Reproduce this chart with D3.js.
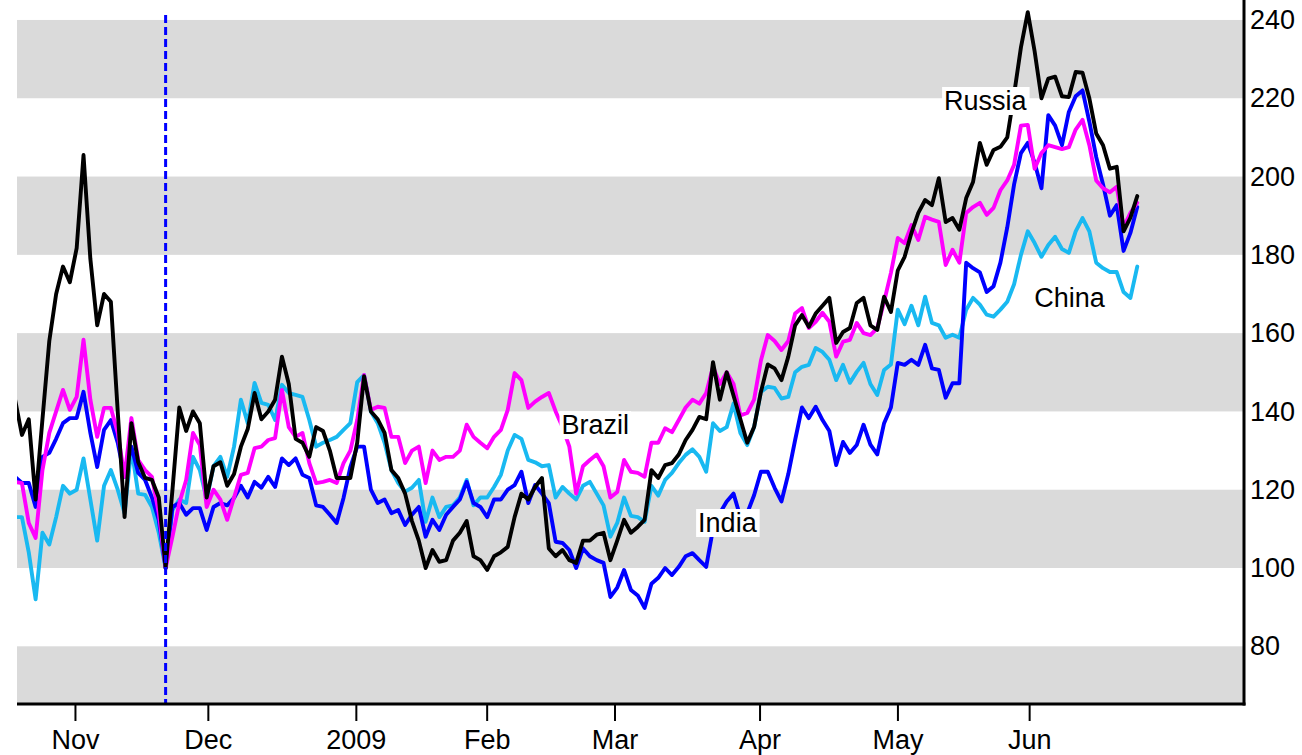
<!DOCTYPE html>
<html><head><meta charset="utf-8">
<script src="https://cdn.jsdelivr.net/npm/d3@7"></script>
<style>
html,body{margin:0;padding:0;background:#fff;}
svg{display:block;}
text{font-family:"Liberation Sans",Arial,Helvetica,sans-serif;}
</style>
</head><body>
<svg id="chart" width="1302" height="755"></svg>
<script>
// ---- data (trading-day index 0..164, index 22 = rebasing day = 100) ----
const russia = [143,134,138,117.5,138,158,170,177,173,181.7,
205.5,179,162,170,168,140,113,137,127,123,
122.5,118,100,120,141,135,140,137,118,126,
127,121,124,131,135.5,144.7,138,140,143,154,
147,133,132,128.4,136,135,130,123,123,123,
132,149,140,138,134.5,125,123,119,112,107,
100,104.6,101.6,102,107,109,112,103,102,99.5,
103,104,105.4,113,119,117.5,120.7,123,105,103,
104.6,102,101.3,107,107,108.5,109,102,107,112.3,
109,110.5,112.3,125,123,126.3,126.8,129,132.7,135.3,
138.6,138,152.6,143,150,144,138,132,136,145,
152,151,148,154,162,164.6,161.6,165,167,169,
157.5,160.3,161.3,167.7,169,162,160.8,169.3,165.4,176,
179.5,185.6,190.7,194,192.7,199.6,188.4,189.4,186.4,194.5,
198.6,208.6,203,206.8,207.6,210,221,233,242,232,
220,225,225.5,220.5,220.3,226.7,226.5,220,211,208,
202,202.5,186,189.5,195];

const brazil = [122,121.7,111.5,107.7,125,134.5,140,145.5,140.4,143.7,
158.3,143,133.5,140.9,140.9,134.5,123.3,138.3,127.6,125,
123.3,114,100,108,116.6,122.5,134.5,131.4,115.6,120,
117.5,112.3,118,123.8,124.3,130.6,131,132.7,133.2,145.5,
136,133.5,134.5,126.8,121.7,122,122.5,121.7,126.8,130,
137.8,149.3,140.4,141.2,140.9,133.5,133.5,126.8,130,131,
121.7,130,127.6,128.4,128.4,130,136.6,133.5,132,130.6,
133.5,135.3,140.4,149.8,148,140.9,142.5,143.7,144.7,140,
136,131,119,126,127.6,129,126,118,119.4,127.6,
124.6,124.3,123.3,132,132,135.7,134.7,137.8,141,143,
142,144.7,151.4,147,150,147,139,139.6,143,153,
159.5,158,155.7,158,165,166.4,161.3,162.9,165.2,162.9,
154,157.8,158.3,162.6,160,159.5,161.3,168,175.4,184.3,
183,187.6,183.8,189.7,189,188.4,177.4,181.3,178,190.7,
192.2,193.3,190.2,192,196.5,199,203,213,213.2,202,
206,208,207.5,207,207.5,212,214.5,208,199,197,
196,197.4,187,190.7,193.3];

const india = [123.3,121.7,121.7,115.6,128.4,129.4,133,137,138.3,138.3,
145,134.5,125.8,135.3,137.8,132,123.3,131,124.3,122.5,
118,112.3,100,115.6,116.6,113.6,115.3,115.3,109.7,115.6,
116.6,116,117.9,121,118,122,120.5,123.3,120.7,128,
126.3,128,123.8,123,116,115.6,113.6,111.5,117.9,125.8,
131,131,120,116.6,117.5,114,114.8,111,113.6,115.6,
108,112.3,109.7,113.6,115.6,117.5,122,116.6,115.6,113,
117.5,117.5,120,121.2,124.6,116.6,121.2,119,116.6,106.7,
106.4,104.6,100,105,103,102,101.3,92.6,95,99.5,
94.4,93,89.8,96,97.5,100,98.2,100.3,103,103.8,
102,100.3,110,114,117,119,113,114,118.6,124.6,
124.6,120.5,117,124,132.7,141,138.3,141.2,137.8,135,
126.3,132.2,129.4,131.4,136.6,131.5,129,137,141,152.4,
151.9,153.2,151.9,157,151,150.6,143.5,147.2,147.2,178,
176.6,175.5,170.5,172,178,187,198,206,208.6,203.5,
197,215.7,213,208,216.5,220.5,222,214,205,198,
190,192.7,181,185.6,192.2];

const china = [113,113,104,92,109,106,113,121,119,120,
128,117.5,107,121,125,120,114,130.6,119,118.7,
115.6,109,100,114.8,117.5,116.6,128.4,125,117.5,126,
128.4,123.3,131,143,137,147.3,142.2,141.7,137.8,146.8,
144.7,144.2,143.7,137.8,131,132,132.7,133.5,135.3,137,
147.5,149.3,140,137,132,125,121.7,119.5,120.5,122.5,
111.8,118,113,115.6,116,118,122.5,116,118,118,
120.7,123.8,130,134,133,127.6,127,126,126.3,118,
120.7,119,117.5,121,122,119,116,108,111.5,118,
113.3,113,111.8,121,118.5,122.5,124.3,126.8,128.9,130.3,
128.4,124.6,137,135,136,142,134.5,131.4,136,145,
146.3,146,143.3,143.7,150,151.4,151.9,156.2,155.2,153.2,
148,151.9,147.3,150.1,152.4,147,144.2,150.6,152,166,
162.3,167,162,169.3,162.6,162,158.8,159.6,158.8,166,
169,167.3,164.7,164.2,166,168,172.5,180,186,183,
179.5,182.5,184.6,181.5,180.5,186,189.4,186,178,176.6,
175.6,175.6,170.5,169,177];

const monthLabels = ["Nov","Dec","2009","Feb","Mar","Apr","May","Jun"];
const monthIndex  = [8.75, 28.17, 49.8, 68.92, 87.6, 108.8, 128.95, 148.2];
const yTicks = [80,100,120,140,160,180,200,220,240];
const baseIndex = 22;

const seriesNames  = ["China","India","Brazil","Russia"];
const seriesData   = [china, india, brazil, russia];
const seriesColors = ["#19b9f1","#0000ff","#ff00ff","#000000"];

const labelNames = ["Russia","Brazil","India","China"];
const labelIdx   = [141.8, 84.8, 104.1, 154.1];
const labelVal   = [219.3, 136.5, 111.5, 169.0];

// ---- layout ----
const plot = {left:17, right:1244, top:0, bottom:704};
const svg = d3.select("#chart");
const x = d3.scaleLinear().domain([0.28, 179.6]).range([plot.left, plot.right]);
const y = d3.scaleLinear().domain([65.26, 245.1]).range([plot.bottom, plot.top]);

svg.append("defs").append("clipPath").attr("id","clip")
  .append("rect").attr("x",plot.left).attr("y",plot.top)
  .attr("width",plot.right-plot.left).attr("height",plot.bottom-plot.top);

// alternating bands
const bandStarts = d3.range(60, 260, 20).filter(v => (v/20) % 2 === 1);
svg.append("g").selectAll("rect").data(bandStarts).join("rect")
  .attr("x", plot.left)
  .attr("width", plot.right - plot.left)
  .attr("y", d => y(Math.min(d+20, y.domain()[1])))
  .attr("height", d => y(Math.max(d, y.domain()[0])) - y(Math.min(d+20, y.domain()[1])))
  .attr("fill", "#dadada");

// lines
const line = d3.line().x((d,i) => x(i)).y(d => y(d));
const lg = svg.append("g").attr("clip-path","url(#clip)");
seriesData.forEach((s, k) => {
  lg.append("path").datum(s)
    .attr("d", line)
    .attr("fill","none")
    .attr("stroke", seriesColors[k])
    .attr("stroke-width", 3.9)
    .attr("stroke-linejoin","round")
    .attr("stroke-linecap","round");
});

// rebasing line
svg.append("line")
  .attr("x1", x(baseIndex)).attr("x2", x(baseIndex))
  .attr("y1", 15).attr("y2", plot.bottom)
  .attr("stroke","#0000ff").attr("stroke-width",3)
  .attr("stroke-dasharray","8,4");

// labels with white boxes
const lab = svg.append("g");
labelNames.forEach((n, k) => {
  const g = lab.append("g");
  const t = g.append("text")
    .attr("x", x(labelIdx[k])).attr("y", y(labelVal[k]))
    .attr("text-anchor","middle").attr("dominant-baseline","central")
    .attr("font-size", 27).attr("fill","#000").text(n);
  const b = t.node().getBBox();
  g.insert("rect","text")
    .attr("x", b.x - 2).attr("y", b.y + 1)
    .attr("width", b.width + 4).attr("height", b.height - 2)
    .attr("fill","#fff");
});

// bottom axis
const xAxis = d3.axisBottom(x).tickValues(monthIndex)
  .tickFormat((d,i) => monthLabels[i]).tickSize(17).tickSizeOuter(0).tickPadding(9);
const gx = svg.append("g").attr("transform", `translate(0,${plot.bottom})`).call(xAxis);
gx.select(".domain").attr("stroke","#000").attr("stroke-width",3)
  .attr("d", `M${plot.left},0H${plot.right+1.5}`);
gx.selectAll(".tick line").attr("stroke","#000").attr("stroke-width",2);
gx.selectAll(".tick text").attr("font-size",27).attr("fill","#000")
  .style("font-family",'"Liberation Sans",Arial,sans-serif');

// right axis
const yAxis = d3.axisRight(y).tickValues(yTicks).tickSize(0).tickSizeOuter(0).tickPadding(6);
const gy = svg.append("g").attr("transform", `translate(${plot.right},0)`).call(yAxis);
gy.select(".domain").attr("stroke","#000").attr("stroke-width",3)
  .attr("d", `M0,${plot.top}V${plot.bottom+1.5}`);
gy.selectAll(".tick text").attr("font-size",27).attr("fill","#000")
  .style("font-family",'"Liberation Sans",Arial,sans-serif');
</script>
</body></html>
